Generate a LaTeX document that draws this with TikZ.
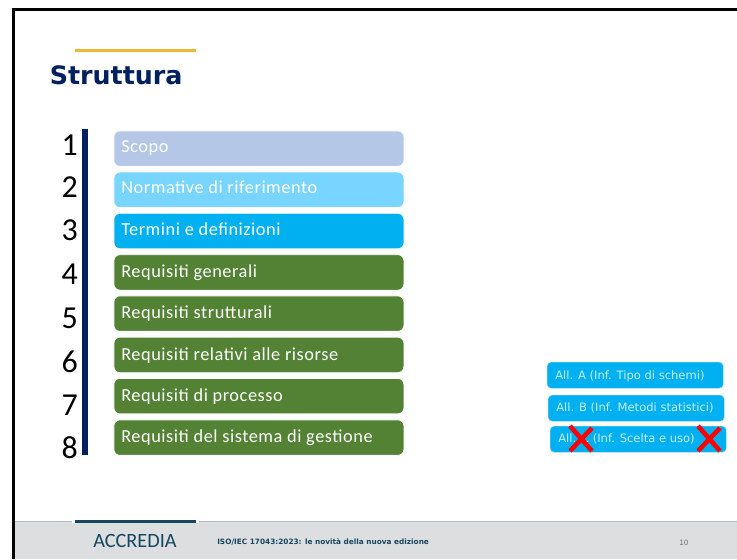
\documentclass[tikz,border=0pt]{standalone}
\usepackage{fontspec}
\setmainfont{Carlito}
\newfontfamily\dejavu{DejaVu Sans}
\definecolor{navy}{HTML}{002060}
\definecolor{gold}{HTML}{F0B732}
\definecolor{cA}{HTML}{B4C7E7}
\definecolor{cB}{HTML}{78D5FF}
\definecolor{cC}{HTML}{00B0F0}
\definecolor{cD}{HTML}{548235}
\definecolor{foot}{HTML}{DCDEE0}
\definecolor{footline}{HTML}{B9BBBD}
\definecolor{teal}{HTML}{17465F}
\tikzset{
  x=0.75pt,y=-0.75pt,
  secbox/.style={rounded corners=4.5pt,draw=white!85!black!10,line width=0.6pt,minimum width=217.5pt,minimum height=26.6pt,inner sep=0pt,anchor=north west},
  sectext/.style={anchor=base west,text=white,font=\addfontfeatures{LetterSpace=3}\fontsize{13.75pt}{15pt}\selectfont,inner sep=0pt},
  numlab/.style={anchor=east,inner sep=0pt,font=\fontsize{24pt}{26pt}\selectfont,text=black},
  annex/.style={rounded corners=3pt,fill=cC,draw=cB,line width=0.3pt,minimum width=132pt,minimum height=19.5pt,inner sep=0pt,anchor=north west},
  annextext/.style={anchor=base west,inner sep=0pt,text=white!78!cC,font=\dejavu\fontsize{8.65pt}{10pt}\selectfont},
  cross/.style={draw=red,line width=3.4pt}
}
\begin{document}
\begin{tikzpicture}
\useasboundingbox (0,0) rectangle (737,559);
\fill[white] (0,0) rectangle (737,559);
% footer
\fill[foot] (14,521) rectangle (737,559);
\fill[footline] (14,520.5) rectangle (737,522);
\fill[white] (72,520) rectangle (199,523);
\fill[teal] (75,520) rectangle (196,522.5);
% frame
\draw[black,line width=2.6pt] (737,9.7) -- (13.7,9.7) -- (13.7,559);
% title
\fill[gold] (75,49) rectangle (196,52);
\node[anchor=base west,inner sep=0pt,text=navy,font=\dejavu\bfseries\fontsize{19pt}{22pt}\selectfont] (title) at (49.5,85) {Struttura};
% bar
\fill[navy] (82,129.5) rectangle (88,454.5);
% numbers
\node[numlab] (n1) at (78,145) {1};
\node[numlab] (n2) at (78,187) {2};
\node[numlab] (n3) at (78,230) {3};
\node[numlab] (n4) at (78,274) {4};
\node[numlab] (n5) at (78,318) {5};
\node[numlab] (n6) at (78,362) {6};
\node[numlab] (n7) at (78,405) {7};
\node[numlab] (n8) at (78,448) {8};
% boxes
\node[secbox,fill=cA] (b1) at (113.5,130.5) {};
\node[secbox,fill=cB] (b2) at (113.5,171.7) {};
\node[secbox,fill=cC] (b3) at (113.5,212.9) {};
\node[secbox,fill=cD] (b4) at (113.5,254.3) {};
\node[secbox,fill=cD] (b5) at (113.5,295.5) {};
\node[secbox,fill=cD] (b6) at (113.5,336.8) {};
\node[secbox,fill=cD] (b7) at (113.5,378) {};
\node[secbox,fill=cD] (b8) at (113.5,419.5) {};
\node[sectext] at (121,153) {Scopo};
\node[sectext] at (121,194) {Normative di riferimento};
\node[sectext] at (121,236) {Termini e definizioni};
\node[sectext] at (121,277) {Requisiti generali};
\node[sectext] at (121,318) {Requisiti strutturali};
\node[sectext] at (121,360) {Requisiti relativi alle risorse};
\node[sectext] at (121,401) {Requisiti di processo};
\node[sectext] at (121,442) {Requisiti del sistema di gestione};
% annexes
\node[annex] (a1) at (547,362) {};
\node[annex] (a2) at (548,395) {};
\node[annex] (a3) at (550,426) {};
\node[annextext] at (555,379) {All. A (Inf. Tipo di schemi)};
\node[annextext] at (556,411.7) {All. B (Inf. Metodi statistici)};
\node[annextext] at (558,442.5) {All. C (Inf. Scelta e uso)};
% crosses
\coordinate (c1a) at (570,426); \coordinate (c1b) at (592,451);
\coordinate (c1c) at (592,428); \coordinate (c1d) at (570,451);
\draw[cross] (c1a) -- (c1b); \draw[cross] (c1c) -- (c1d);
\coordinate (c2a) at (698,426); \coordinate (c2b) at (720,451);
\coordinate (c2c) at (720,428); \coordinate (c2d) at (698,451);
\draw[cross] (c2a) -- (c2b); \draw[cross] (c2c) -- (c2d);
% footer text
\node[anchor=base west,inner sep=0pt,text=teal,font=\fontsize{15.2pt}{17pt}\selectfont] (acc) at (93,547) {ACCREDIA};
\node[anchor=base west,inner sep=0pt,text=teal,font=\dejavu\bfseries\fontsize{5.5pt}{6.5pt}\selectfont] (foot) at (217,544) {ISO/IEC 17043:2023: le novità della nuova edizione};
\node[anchor=base west,inner sep=0pt,text=black!55,font=\dejavu\fontsize{5.5pt}{6.5pt}\selectfont] (pg) at (679,545) {10};
\end{tikzpicture}
\end{document}
